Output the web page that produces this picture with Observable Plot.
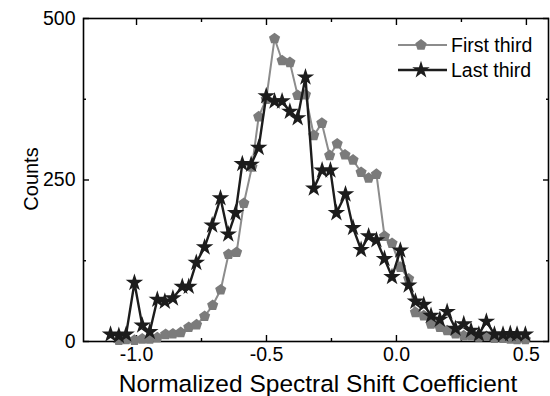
<!DOCTYPE html>
<html><head><meta charset="utf-8">
<script src="https://cdn.jsdelivr.net/npm/d3@7"></script>
<script src="https://cdn.jsdelivr.net/npm/@observablehq/plot@0.6"></script>
<style>body{margin:0;background:#fff}#chart{width:550px;height:396px;position:relative}</style>
</head><body><div id="chart"></div>
<script>
const seriesNames = ["First third", "Last third"];
const firstX = [-1.068,-1.040,-1.008,-0.978,-0.949,-0.920,-0.888,-0.860,-0.830,-0.799,-0.769,-0.738,-0.707,-0.676,-0.646,-0.615,-0.587,-0.556,-0.530,-0.501,-0.469,-0.440,-0.410,-0.380,-0.350,-0.318,-0.287,-0.257,-0.228,-0.198,-0.167,-0.136,-0.107,-0.077,-0.046,-0.017,0.015,0.047,0.073,0.105,0.133,0.167,0.195,0.227,0.259,0.287,0.317,0.346,0.377,0.410,0.438,0.464,0.496];
const firstY = [2,3,2,4,4,6,11,12,14,22,26,39,56,80,135,138,214,270,348,375,469,435,432,381,382,319,338,288,306,289,281,262,253,259,163,152,115,97,45,40,27,22,17,12,9,9,7,8,5,5,4,3,3];
const lastX = [-1.100,-1.068,-1.040,-1.008,-0.978,-0.949,-0.920,-0.891,-0.860,-0.824,-0.799,-0.770,-0.738,-0.709,-0.677,-0.647,-0.619,-0.593,-0.559,-0.530,-0.501,-0.469,-0.440,-0.410,-0.380,-0.350,-0.318,-0.286,-0.254,-0.231,-0.196,-0.167,-0.136,-0.107,-0.077,-0.046,-0.017,0.015,0.047,0.073,0.105,0.133,0.167,0.195,0.227,0.259,0.287,0.317,0.346,0.377,0.410,0.438,0.464,0.496];
const lastY = [11,9,11,91,25,15,65,62,67,85,85,122,146,180,222,166,199,275,274,300,380,372,372,356,346,409,237,265,265,199,228,176,142,163,157,128,100,141,87,62,57,40,34,46,20,27,17,11,31,11,11,12,11,11];
const xTickLabels = [-1.0, -0.5, 0.0, 0.5];
const xTicksMinor = [-0.75, -0.25, 0.25];
const yTickLabels = [0, 250, 500];
const yTicksMinor = [125, 375];
const xTitle = "Normalized Spectral Shift Coefficient";
const yTitle = "Counts";

const first = firstX.map((x, i) => ({x, y: firstY[i]}));
const last = lastX.map((x, i) => ({x, y: lastY[i]}));

const pentagon = {
  draw(context, size) {
    const R = Math.sqrt(size / 2.378);
    for (let i = 0; i < 5; i++) {
      const a = -Math.PI / 2 + i * 2 * Math.PI / 5;
      const px = R * Math.cos(a), py = R * Math.sin(a);
      if (i) context.lineTo(px, py); else context.moveTo(px, py);
    }
    context.closePath();
  }
};

const greyLine = "#8c8c8c", greyFill = "#7b7b7b", dark = "#1c1c1c";
const font = "Liberation Sans, Arial, Helvetica, sans-serif";

const plot = Plot.plot({
  width: 550, height: 396,
  marginLeft: 83, marginRight: 2, marginTop: 18, marginBottom: 55,
  style: {fontFamily: font, fontSize: "19px", color: "#000", background: "#fff"},
  x: {domain: [-1.204, 0.585]},
  y: {domain: [0, 500]},
  marks: [
    Plot.frame({stroke: "#000", strokeWidth: 1.6}),
    Plot.axisX({anchor: "bottom", ticks: xTickLabels, tickSize: -6, tickFormat: () => "", label: null, strokeWidth: 1.4}),
    Plot.axisX({anchor: "bottom", ticks: xTicksMinor, tickSize: -3, tickFormat: () => "", label: null, strokeWidth: 1.4}),
    Plot.axisX({anchor: "top", ticks: xTickLabels, tickSize: -6, tickFormat: () => "", label: null, strokeWidth: 1.4}),
    Plot.axisX({anchor: "top", ticks: xTicksMinor, tickSize: -3, tickFormat: () => "", label: null, strokeWidth: 1.4}),
    Plot.axisX({anchor: "bottom", ticks: xTickLabels, tickSize: 0, tickPadding: 6, tickFormat: d => d.toFixed(1), label: null, fontSize: 19.5}),
    Plot.axisY({anchor: "left", ticks: yTickLabels, tickSize: -6, tickFormat: () => "", label: null, strokeWidth: 1.4}),
    Plot.axisY({anchor: "left", ticks: yTicksMinor, tickSize: -3, tickFormat: () => "", label: null, strokeWidth: 1.4}),
    Plot.axisY({anchor: "right", ticks: yTickLabels, tickSize: -6, tickFormat: () => "", label: null, strokeWidth: 1.4}),
    Plot.axisY({anchor: "right", ticks: yTicksMinor, tickSize: -3, tickFormat: () => "", label: null, strokeWidth: 1.4}),
    Plot.axisY({anchor: "left", ticks: yTickLabels, tickSize: 0, tickPadding: 8, tickFormat: d => String(d), label: null, fontSize: 19.5}),
    Plot.line(first, {x: "x", y: "y", stroke: greyLine, strokeWidth: 2}),
    Plot.dot(first, {x: "x", y: "y", symbol: pentagon, r: 5.1, fill: greyFill, stroke: "none"}),
    Plot.line(last, {x: "x", y: "y", stroke: dark, strokeWidth: 2.4}),
    Plot.dot(last, {x: "x", y: "y", symbol: "star", r: 5.5, fill: dark, stroke: "none"})
  ]
});
document.getElementById("chart").appendChild(plot);

const svg = d3.select(plot);
// axis titles
svg.append("text").attr("x", 318).attr("y", 383).attr("dy", "0.35em")
  .attr("text-anchor", "middle").attr("font-family", font).attr("font-size", 24.5).attr("fill", "#000").text(xTitle);
svg.append("text").attr("transform", "translate(31,179) rotate(-90)").attr("dy", "0.35em")
  .attr("text-anchor", "middle").attr("font-family", font).attr("font-size", 20).attr("fill", "#000").text(yTitle);

// legend
const leg = svg.append("g").attr("font-family", font).attr("font-size", 19.5).attr("text-anchor", "start");
const items = [
  {name: seriesNames[0], stroke: greyLine, fill: greyFill, sym: pentagon, size: 85, sw: 2, y: 45},
  {name: seriesNames[1], stroke: dark, fill: dark, sym: d3.symbolStar, size: 95, sw: 2.4, y: 70}
];
for (const it of items) {
  leg.append("line").attr("x1", 398).attr("x2", 447).attr("y1", it.y).attr("y2", it.y)
    .attr("stroke", it.stroke).attr("stroke-width", it.sw);
  leg.append("path").attr("d", d3.symbol(it.sym, it.size)()).attr("transform", `translate(421,${it.y})`)
    .attr("fill", it.fill);
  leg.append("text").attr("x", 451).attr("y", it.y).attr("dy", "0.35em").attr("text-anchor", "start").attr("fill", "#000").text(it.name);
}
</script>
</body></html>
